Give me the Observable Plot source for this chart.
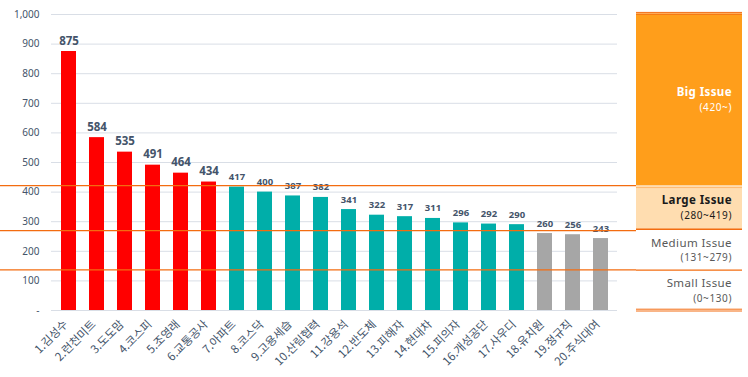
<!DOCTYPE html>
<html><head><meta charset="utf-8">
<script src="https://cdn.jsdelivr.net/npm/d3@7"></script>
<script src="https://cdn.jsdelivr.net/npm/@observablehq/plot@0.6"></script>
<style>body{margin:0;background:#fff} svg{display:block}</style>
</head><body><div id="chart"></div>
<script>
const categories = ["1.김성수","2.런천미트","3.도도맘","4.코스피","5.조영래","6.교통공사","7.아파트","8.코스닥","9.고용세습","10.산림협력","11.강용석","12.반도체","13.피해자","14.현대차","15.피의자","16.개성공단","17.사우디","18.유치원","19.정규직","20.주식대여"];
const values = [875,584,535,491,464,434,417,400,387,382,341,322,317,311,296,292,290,260,256,243];
const yTicks = [0,100,200,300,400,500,600,700,800,900,1000];
const tierMin = [420, 280, 0];
const tierColors = ["#FF0000", "#00AEA9", "#A6A6A6"];
const bandTitles = ["Big Issue","Large Issue","Medium Issue","Small Issue"];
const bandRanges = ["(420~)","(280~419)","(131~279)","(0~130)"];
const bandTop = [1002, 422, 273, 135];
const bandBottom = [422, 273, 135, 0];
const dividers = [422, 270, 137];

const data = categories.map((c, i) => ({cat: c, value: values[i], tier: tierMin.findIndex(t => values[i] >= t)}));
const krFont = "'Noto Sans CJK KR', 'Noto Sans', sans-serif";
const latFont = "'Noto Sans', sans-serif";

const chart = Plot.plot({
  width: 748, height: 377,
  marginLeft: 51, marginRight: 131, marginTop: 14, marginBottom: 67,
  style: {fontFamily: krFont, fontSize: "10px", color: "#44546A", background: "#fff", overflow: "visible"},
  x: {domain: categories, paddingInner: 0.47, paddingOuter: 0.25, label: null},
  y: {domain: [0, 1000], label: null},
  marks: [
    Plot.ruleY(yTicks, {stroke: "#D9DEE6", strokeWidth: 1}),
    Plot.barY(data, {x: "cat", y: "value", fill: d => tierColors[d.tier]}),
    Plot.text(data.filter(d => d.tier === 0), {x: "cat", y: "value", text: d => String(d.value), lineAnchor: "bottom", dy: -7, fontSize: 11.5, fontWeight: "bold", fill: "#44546A", fontFamily: latFont}),
    Plot.text(data.filter(d => d.tier !== 0), {x: "cat", y: "value", text: d => String(d.value), lineAnchor: "bottom", dy: -7, fontSize: 9.5, fontWeight: "bold", fill: "#44546A", fontFamily: latFont}),
    Plot.ruleY(dividers, {stroke: "#F36C10", strokeWidth: 1.3, insetLeft: -51, insetRight: -125}),
    Plot.axisY({ticks: yTicks, tickSize: 0, tickPadding: 12, fontSize: 10, fontFamily: latFont, label: null,
      tickFormat: d => d === 0 ? "-" : d3.format(",")(d)}),
    Plot.axisX({tickRotate: -45, tickSize: 0, tickPadding: 12, dx: -3, fontSize: 11.5, label: null})
  ]
});

// Right-hand legend panel, positioned with Plot's y scale
const y = chart.scale("y");
const svg = d3.select(chart);
const px0 = 636, px1 = 742;
const g = svg.append("g");
const fills = ["#FF9E1B", "#FFDDB0", "#FFFFFF", "#FFFFFF"];
bandTitles.forEach((t, i) => {
  const yt = y.apply(bandTop[i]), yb = y.apply(bandBottom[i]);
  g.append("rect").attr("x", px0).attr("width", px1 - px0).attr("y", yt).attr("height", yb - yt).attr("fill", fills[i]);
});
const ln = (yy, c, w) => g.append("line").attr("x1", px0).attr("x2", px1).attr("y1", yy).attr("y2", yy).attr("stroke", c).attr("stroke-width", w);
ln(y.apply(bandTop[0]) - 1, "#F36C10", 1);
ln(y.apply(bandTop[0]) + 0.8, "#F36C10", 1);
ln(y.apply(bandBottom[0]) + 2.5, "#FFB870", 1);
ln(y.apply(bandBottom[1]), "#F36C10", 1.5);
ln(y.apply(bandBottom[2]), "#F36C10", 1.2);
ln(y.apply(0) - 0.8, "#F36C10", 1);
ln(y.apply(0) + 1, "#F36C10", 1);
const txtFill = ["#FFFFFF", "#1A1A1A", "#595959", "#595959"];
const txtWeight = ["bold", "bold", "normal", "normal"];
bandTitles.forEach((t, i) => {
  const mid = (y.apply(bandTop[i]) + y.apply(bandBottom[i])) / 2;
  g.append("text").attr("x", 732).attr("y", mid - 3).attr("text-anchor", "end")
    .attr("font-size", 11.5).attr("letter-spacing", 0.4).attr("font-weight", txtWeight[i]).attr("fill", txtFill[i]).attr("font-family", latFont).text(t);
  g.append("text").attr("x", 732).attr("y", mid + 11.5).attr("text-anchor", "end")
    .attr("font-size", 10).attr("letter-spacing", 0.6).attr("font-weight", "normal").attr("fill", txtFill[i]).attr("font-family", latFont).text(bandRanges[i]);
});

document.getElementById("chart").appendChild(chart);
</script>
</body></html>
